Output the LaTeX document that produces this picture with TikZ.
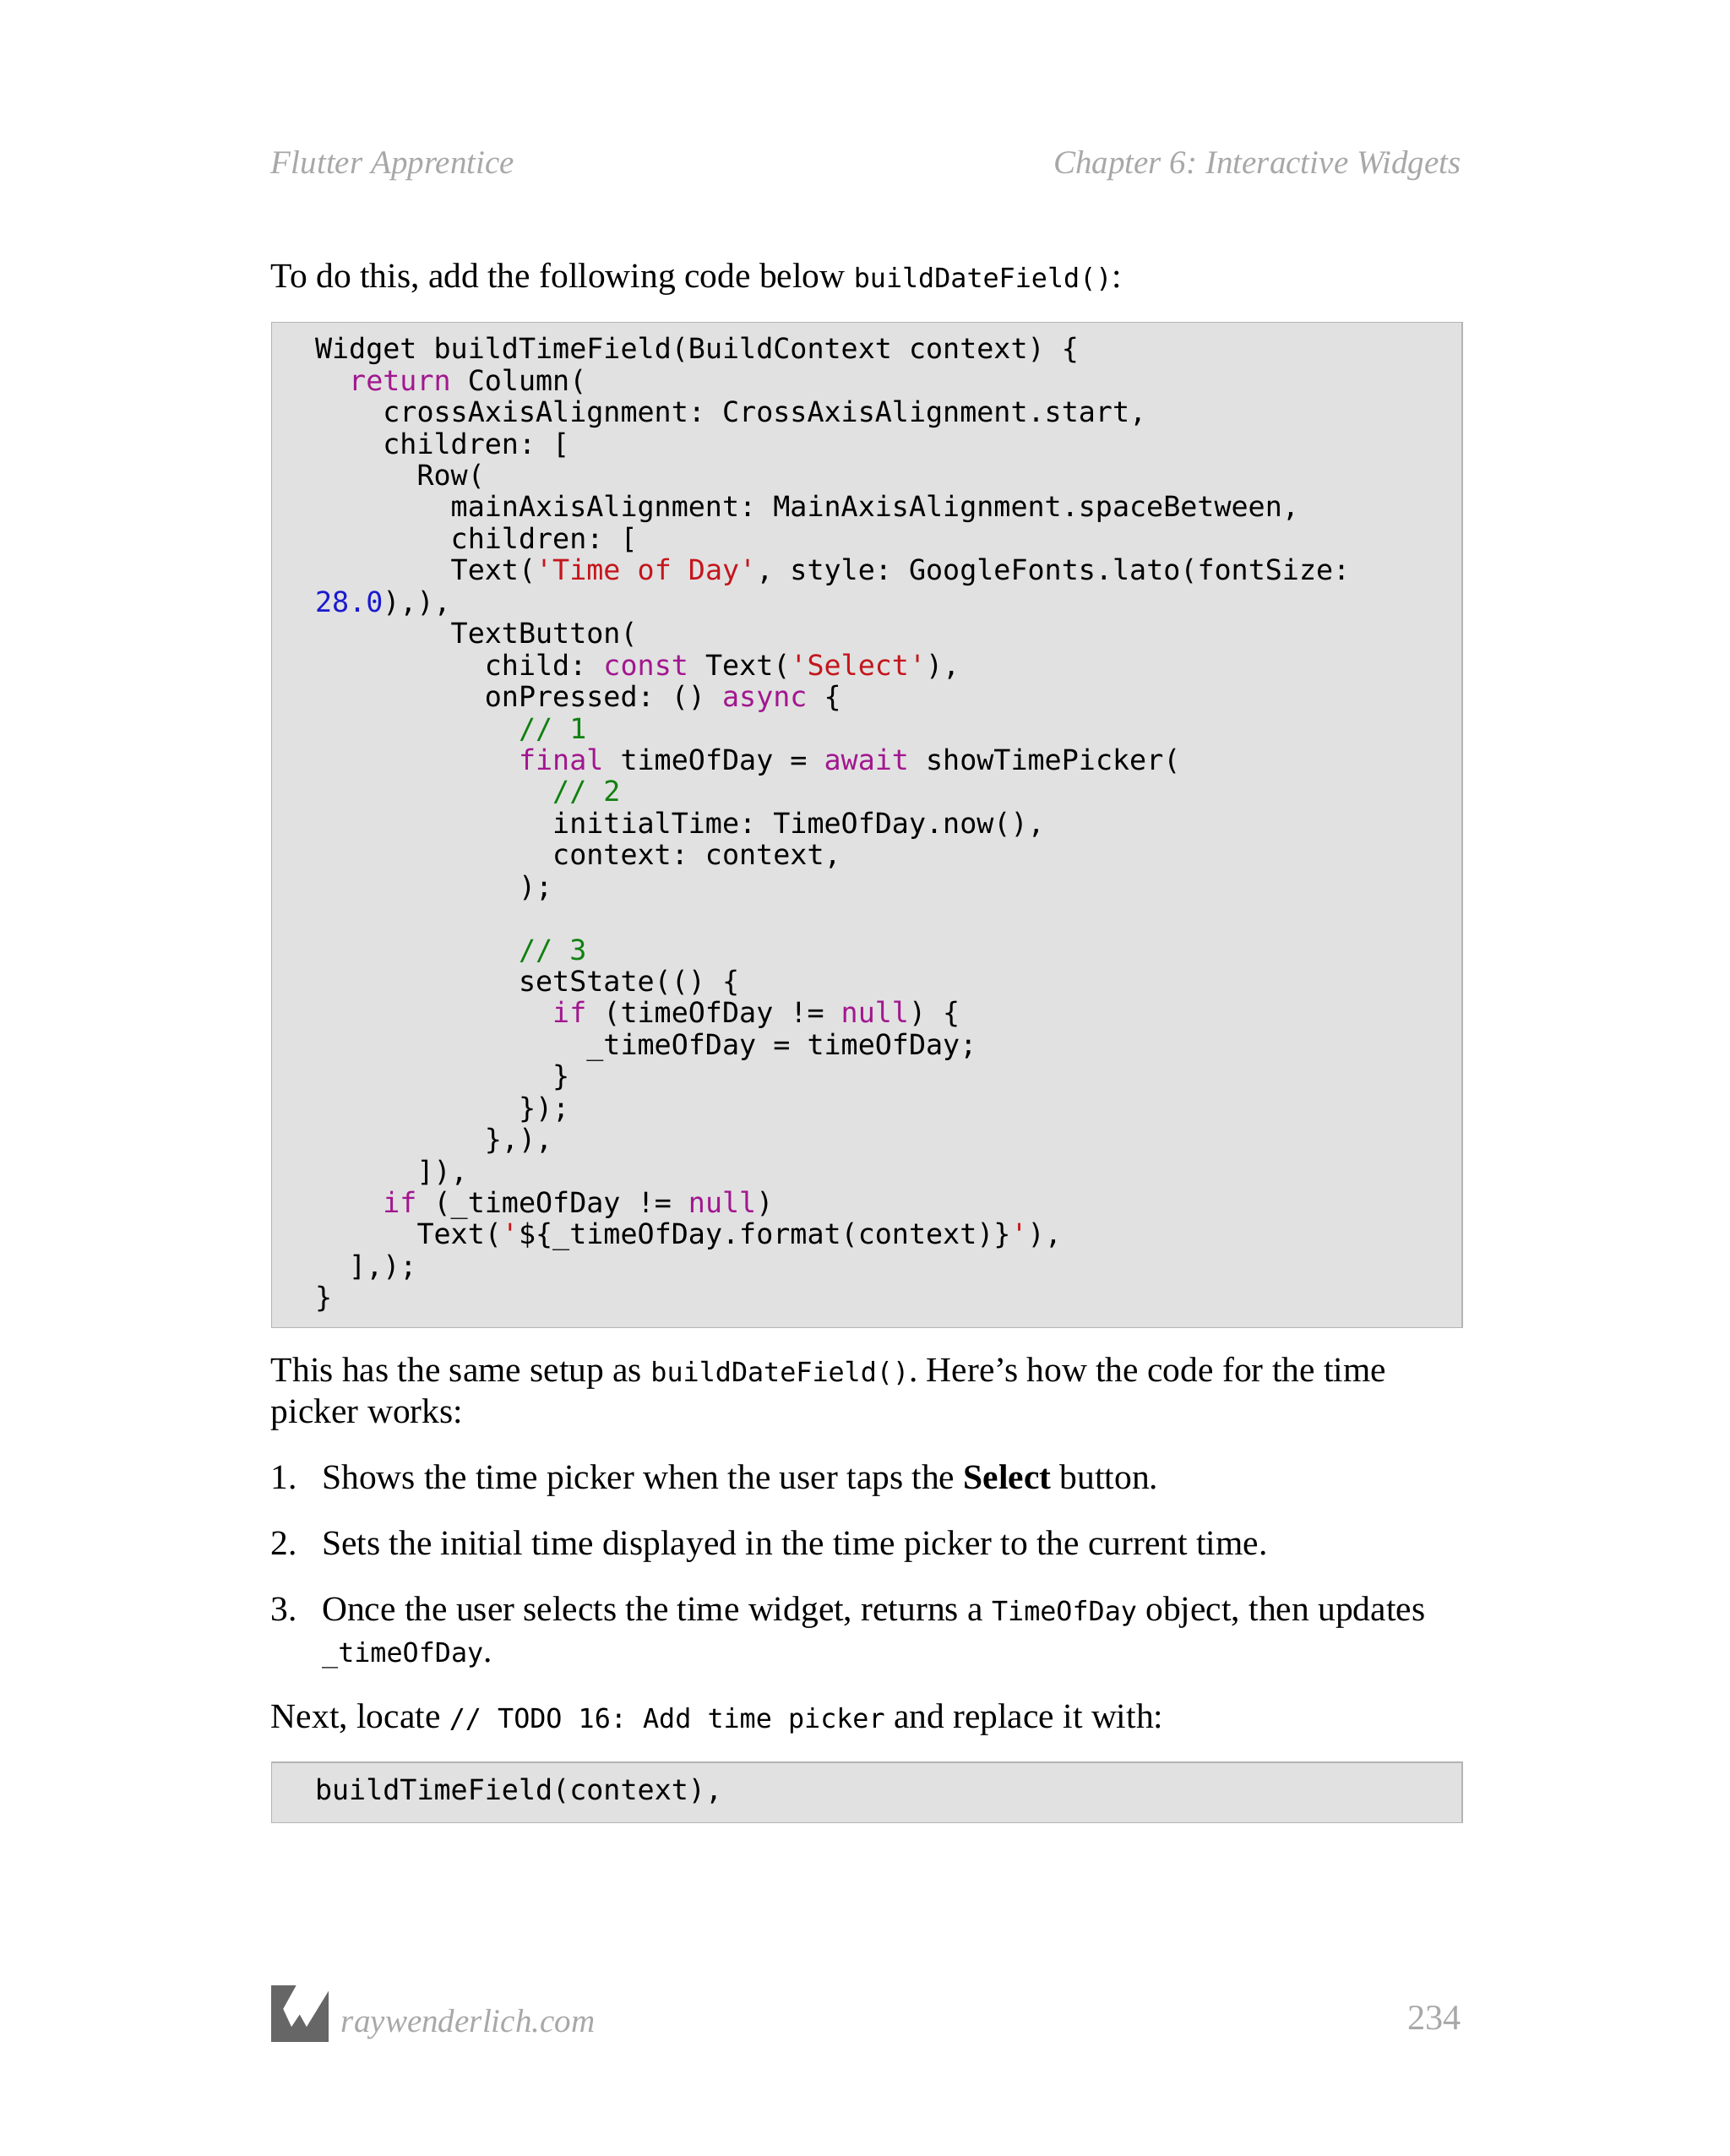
\documentclass[tikz,border=0pt]{standalone}
\usepackage{fontspec}
\setmainfont{Liberation Serif}
\newfontfamily\cf{DejaVu Sans Mono}
\definecolor{ckwc}{HTML}{A2178F}
\definecolor{cstrc}{HTML}{C4161C}
\definecolor{cnumc}{HTML}{1A1AD0}
\definecolor{ccomc}{HTML}{108010}
\definecolor{boxfill}{HTML}{E1E1E1}
\definecolor{boxline}{HTML}{B4B4B4}
\definecolor{headgray}{HTML}{A8A8A8}
\definecolor{logogray}{HTML}{666666}
\newcommand\ckw[1]{\textcolor{ckwc}{#1}}
\newcommand\cstr[1]{\textcolor{cstrc}{#1}}
\newcommand\cnum[1]{\textcolor{cnumc}{#1}}
\newcommand\ccom[1]{\textcolor{ccomc}{#1}}
\newcommand\ct[1]{{\cf\fontsize{19.5}{23}\selectfont #1}}
\frenchspacing
\tikzset{
 cl/.style={anchor=base west,inner sep=0pt,font=\cf\fontsize{20.5}{23}\selectfont\frenchspacing,text=black},
 body/.style={anchor=base west,inner sep=0pt,font=\fontsize{25.5}{28}\selectfont,text=black},
 hdr/.style={inner sep=0pt,font=\itshape\fontsize{24}{28}\selectfont,text=headgray},
 codebox/.style={draw=boxline,fill=boxfill,line width=1pt}
}
\begin{document}
\begin{tikzpicture}[x=1pt,y=-1pt]
\useasboundingbox (0,0) rectangle (1258,1568);
\node[hdr,anchor=base west] (h1) at (197,126) {Flutter Apprentice};
\node[hdr,anchor=base east] (h2) at (1063,126) {Chapter 6: Interactive Widgets};
\node[body] (p1) at (197,209) {To do this, add the following code below \ct{buildDateField()}:};
\node[codebox,minimum width=866pt,minimum height=731pt,anchor=north west,inner sep=0pt] (box1) at (197,234) {};
\def\indw{24.68}
\foreach \i/\ind/\t in {
 1/0/{Widget buildTimeField(BuildContext context) \{},
 2/1/{\ckw{return} Column(},
 3/2/{crossAxisAlignment: CrossAxisAlignment.start,},
 4/2/{children: [},
 5/3/{Row(},
 6/4/{mainAxisAlignment: MainAxisAlignment.spaceBetween,},
 7/4/{children: [},
 8/4/{Text(\cstr{'Time of Day'}, style: GoogleFonts.lato(fontSize:},
 9/0/{\cnum{28.0}),),},
 10/4/{TextButton(},
 11/5/{child: \ckw{const} Text(\cstr{'Select'}),},
 12/5/{onPressed: () \ckw{async} \{},
 13/6/{\ccom{// 1}},
 14/6/{\ckw{final} timeOfDay = \ckw{await} showTimePicker(},
 15/7/{\ccom{// 2}},
 16/7/{initialTime: TimeOfDay.now(),},
 17/7/{context: context,},
 18/6/{);},
 20/6/{\ccom{// 3}},
 21/6/{setState(() \{},
 22/7/{\ckw{if} (timeOfDay != \ckw{null}) \{},
 23/8/{\_timeOfDay = timeOfDay;},
 24/7/{\}},
 25/6/{\});},
 26/5/{\},),},
 27/3/{]),},
 28/2/{\ckw{if} (\_timeOfDay != \ckw{null})},
 29/3/{Text(\cstr{'}\$\{\_timeOfDay.format(context)\}\cstr{'}),},
 30/1/{],);},
 31/0/{\}}}
{ \node[cl] (c\i) at ({229+\indw*\ind},{254+23*(\i-1)+7}) {\t}; }
\node[body] (p2) at (197,1005) {This has the same setup as \ct{buildDateField()}. Here’s how the code for the time};
\node[body] (p3) at (197,1035) {picker works:};
\node[body] (n1) at (197,1083) {1.};
\node[body] (t1) at (234,1083) {Shows the time picker when the user taps the \textbf{Select} button.};
\node[body] (n2) at (197,1131) {2.};
\node[body] (t2) at (234,1131) {Sets the initial time displayed in the time picker to the current time.};
\node[body] (n3) at (197,1179) {3.};
\node[body] (t3) at (234,1179) {Once the user selects the time widget, returns a \ct{TimeOfDay} object, then updates};
\node[body] (t3b) at (234,1209) {\ct{\_timeOfDay}.};
\node[body] (p4) at (197,1257) {Next, locate \ct{// TODO 16: Add time picker} and replace it with:};
\node[codebox,minimum width=866pt,minimum height=44pt,anchor=north west,inner sep=0pt] (box2) at (197,1281) {};
\node[cl] (c32) at (229,1309) {buildTimeField(context),};
\fill[logogray] (197,1444) rectangle (239,1485);
\fill[white] (216,1443) -- (206,1461) -- (212,1474) -- (218,1465) -- (223,1474) -- (239.5,1447) -- (239.5,1443) -- cycle;
\node[hdr,anchor=base west] (f1) at (248,1478) {raywenderlich.com};
\node[inner sep=0pt,anchor=base east,font=\fontsize{26}{30}\selectfont,text=headgray] (f2) at (1063,1476) {234};
\end{tikzpicture}
\end{document}
